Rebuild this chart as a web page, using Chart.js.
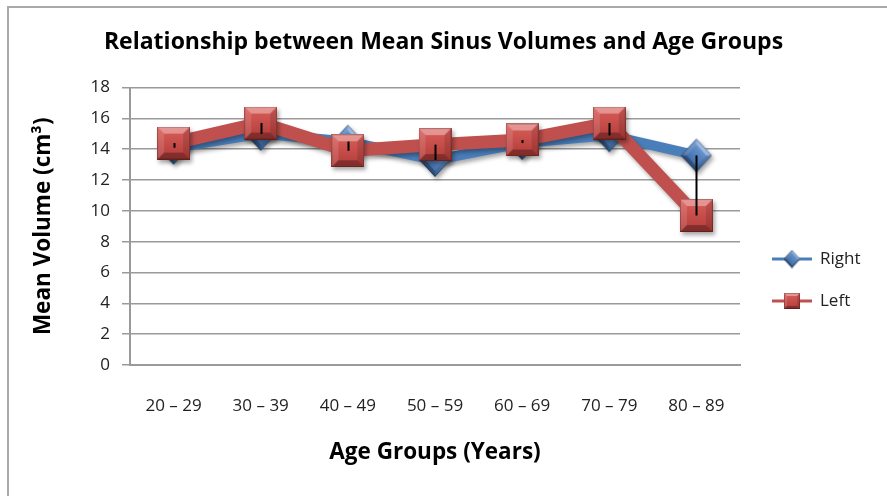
<!DOCTYPE html>
<html>
<head>
<meta charset="utf-8">
<script src="https://cdn.jsdelivr.net/npm/chart.js@4.4.1/dist/chart.umd.min.js"></script>
<style>
  html, body { margin: 0; padding: 0; background: #fff; }
  #wrap { position: relative; width: 887px; height: 496px; overflow: hidden; }
  #frame { position: absolute; left: 7px; top: 6px; right: -4px; bottom: -4px;
    border-left: 2px solid #a9a9a9; border-top: 2px solid #a9a9a9; }
  #chart { position: absolute; left: 0; top: 0; }
</style>
</head>
<body>
<div id="wrap">
  <div id="frame"></div>
  <canvas id="chart" width="887" height="496"></canvas>
</div>
<script>
const ageGroups = ["20 – 29", "30 – 39", "40 – 49", "50 – 59", "60 – 69", "70 – 79", "80 – 89"];
const rightVolumes = [14.1, 15.0, 14.5, 13.3, 14.4, 14.9, 13.6];
const leftVolumes = [14.4, 15.7, 13.9, 14.3, 14.6, 15.7, 9.7];
const yTicks = [0, 2, 4, 6, 8, 10, 12, 14, 16, 18];

const BLUE = "#4a7ebb";
const RED = "#c0504d";
const FONT = "'Open Sans', sans-serif";

// bevelled square marker like the Excel 2007 style
function bevelSquare(side, top, bottom) {
  const c = document.createElement("canvas");
  c.width = side; c.height = side;
  const g = c.getContext("2d");
  const s = side, b = Math.round(side * 0.2);
  const grad = g.createLinearGradient(0, 0, 0, s);
  grad.addColorStop(0, top);
  grad.addColorStop(1, bottom);
  g.fillStyle = grad;
  g.fillRect(0, 0, s, s);
  const facet = (pts, fill) => {
    g.beginPath();
    g.moveTo(pts[0][0], pts[0][1]);
    pts.slice(1).forEach((p) => g.lineTo(p[0], p[1]));
    g.closePath();
    g.fillStyle = fill;
    g.fill();
  };
  facet([[0, 0], [s, 0], [s - b, b], [b, b]], "rgba(255,255,255,0.35)");
  facet([[0, 0], [b, b], [b, s - b], [0, s]], "rgba(255,255,255,0.12)");
  facet([[s, 0], [s, s], [s - b, s - b], [s - b, b]], "rgba(0,0,0,0.12)");
  facet([[0, s], [s, s], [s - b, s - b], [b, s - b]], "rgba(0,0,0,0.28)");
  g.strokeStyle = "rgba(0,0,0,0.25)";
  g.lineWidth = 1;
  g.strokeRect(0.5, 0.5, s - 1, s - 1);
  return c;
}

function bevelDiamond(side, top, bottom) {
  const sq = bevelSquare(side, top, bottom);
  const d = Math.ceil(side * Math.SQRT2);
  const c = document.createElement("canvas");
  c.width = d; c.height = Math.ceil(d * 1.1);
  const g = c.getContext("2d");
  g.translate(d / 2, c.height / 2);
  g.scale(1, 1.1);
  g.rotate(Math.PI / 4);
  g.drawImage(sq, -side / 2, -side / 2);
  return c;
}

const redSquare = bevelSquare(33, "#dc5f5b", "#b03c39");
const blueDiamond = bevelDiamond(22, "#6f9bd6", "#3b68a3");
const redSquareSmall = bevelSquare(16, "#dc5f5b", "#b03c39");
const blueDiamondSmall = bevelDiamond(12, "#6f9bd6", "#3b68a3");

const shadowPlugin = {
  id: "shadow",
  beforeDatasetDraw(chart) {
    const ctx = chart.ctx;
    ctx.save();
    ctx.shadowColor = "rgba(0,0,0,0.35)";
    ctx.shadowBlur = 4;
    ctx.shadowOffsetX = 2;
    ctx.shadowOffsetY = 3;
  },
  afterDatasetDraw(chart) {
    chart.ctx.restore();
  },
};

// high-low lines between the two series
const hiLoPlugin = {
  id: "hiLo",
  afterDatasetsDraw(chart) {
    const ctx = chart.ctx;
    const x = chart.scales.x, y = chart.scales.y;
    ctx.save();
    ctx.strokeStyle = "#000";
    ctx.lineWidth = 2;
    ageGroups.forEach((g, i) => {
      const px = Math.round(x.getPixelForValue(i)) + 0.5;
      ctx.beginPath();
      ctx.moveTo(px, y.getPixelForValue(Math.max(rightVolumes[i], leftVolumes[i])));
      ctx.lineTo(px, y.getPixelForValue(Math.min(rightVolumes[i], leftVolumes[i])));
      ctx.stroke();
    });
    ctx.restore();
  },
};

const legendPlugin = {
  id: "sideLegend",
  afterDraw(chart) {
    const ctx = chart.ctx;
    const items = [
      { label: "Right", color: BLUE, img: blueDiamondSmall, y: 259 },
      { label: "Left", color: RED, img: redSquareSmall, y: 301 },
    ];
    ctx.save();
    items.forEach((it) => {
      ctx.strokeStyle = it.color;
      ctx.lineWidth = 3;
      ctx.beginPath();
      ctx.moveTo(772, it.y);
      ctx.lineTo(812, it.y);
      ctx.stroke();
      ctx.drawImage(it.img, 792 - it.img.width / 2, it.y - it.img.height / 2);
      ctx.fillStyle = "#222";
      ctx.font = "17px " + FONT;
      ctx.textBaseline = "middle";
      ctx.fillText(it.label, 820, it.y);
    });
    ctx.restore();
  },
};

new Chart(document.getElementById("chart"), {
  type: "line",
  data: {
    labels: ageGroups,
    datasets: [
      {
        label: "Right",
        data: rightVolumes,
        borderColor: BLUE,
        borderWidth: 10,
        pointStyle: blueDiamond,
        pointRadius: 16,
        order: 1,
      },
      {
        label: "Left",
        data: leftVolumes,
        borderColor: RED,
        borderWidth: 13,
        pointStyle: redSquare,
        pointRadius: 16,
        order: 0,
      },
    ],
  },
  options: {
    responsive: false,
    animation: false,
    layout: { padding: 0 },
    plugins: {
      legend: { display: false },
      tooltip: { enabled: false },
      title: {
        display: true,
        text: "Relationship between Mean Sinus Volumes and Age Groups",
        color: "#000",
        font: { family: FONT, size: 23, weight: "bold" },
        padding: { top: 29, bottom: 31 },
        position: "top",
      },
    },
    scales: {
      x: {
        offset: true,
        grid: { display: false },
        border: { display: true, color: "#9a9a9a", width: 2 },
        ticks: { color: "#222", font: { family: FONT, size: 17 }, padding: 23, maxRotation: 0 },
        title: {
          display: true,
          text: "Age Groups (Years)",
          color: "#000",
          font: { family: FONT, size: 22.5, weight: "bold" },
          padding: { top: 0, bottom: 30 },
        },
        afterFit: (s) => { s.height = 131; },
      },
      y: {
        min: 0,
        max: 18,
        afterBuildTicks: (s) => { s.ticks = yTicks.map((v) => ({ value: v })); },
        grid: { color: "#9a9a9a", lineWidth: 1.5, tickLength: 8 },
        border: { display: true, color: "#9a9a9a", width: 2 },
        ticks: { color: "#222", font: { family: FONT, size: 17 }, padding: 12 },
        title: {
          display: true,
          text: "Mean Volume (cm³)",
          color: "#000",
          font: { family: FONT, size: 22.5, weight: "bold" },
          padding: { top: 30, bottom: 0 },
        },
        afterFit: (s) => { s.width = 130; },
      },
      // empty right-hand axis that reserves the legend column
      side: {
        position: "right",
        grid: { display: false },
        border: { display: false },
        ticks: { display: false },
        afterFit: (s) => { s.width = 147; },
      },
    },
  },
  plugins: [shadowPlugin, hiLoPlugin, legendPlugin],
});
</script>
</body>
</html>
